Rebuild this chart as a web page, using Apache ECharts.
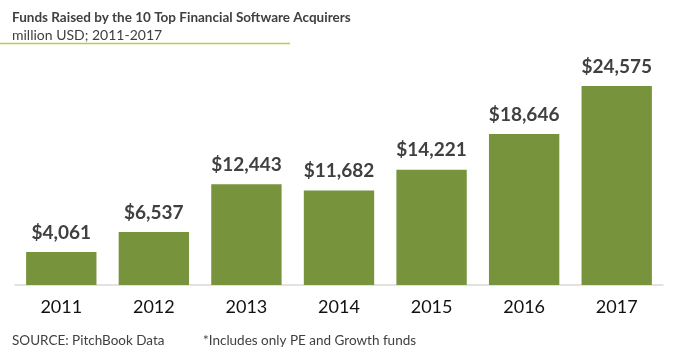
<!DOCTYPE html>
<html><head><meta charset="utf-8">
<script src="https://cdn.jsdelivr.net/npm/echarts@6/dist/echarts.min.js"></script>
<style>html,body{margin:0;padding:0;background:#fff}#c{width:680px;height:362px}</style>
</head><body><div id="c"></div>
<script>
var categories = ['2011','2012','2013','2014','2015','2016','2017'];
var funds = [4061, 6537, 12443, 11682, 14221, 18646, 24575];
var titleText = 'Funds Raised by the 10 Top Financial Software Acquirers';
var subtitleText = 'million USD; 2011-2017';
var sourceText = 'SOURCE: PitchBook Data';
var noteText = '*Includes only PE and Growth funds';

var chart = echarts.init(document.getElementById('c'));
var font = 'Lato';
chart.setOption({
  animation: false,
  title: {
    text: titleText, subtext: subtitleText, left: 7, top: 6, itemGap: 3,
    textStyle: {fontFamily: font, fontWeight: 'bold', fontSize: 13.5, color: '#404040'},
    subtextStyle: {fontFamily: font, fontSize: 14, color: '#404040'}
  },
  graphic: [
    {type: 'line', shape: {x1: 0, y1: 43.5, x2: 290, y2: 43.5}, style: {stroke: '#b8cf3c', lineWidth: 1.5}},
    {type: 'text', left: 12, top: 334, style: {text: sourceText, fontFamily: font, fontSize: 13.5, fill: '#404040'}},
    {type: 'text', left: 203, top: 334, style: {text: noteText, fontFamily: font, fontSize: 13.5, fill: '#404040'}}
  ],
  grid: {left: 15, right: 17, top: 42, bottom: 77},
  xAxis: {
    type: 'category', data: categories,
    axisLine: {lineStyle: {color: '#d9d9d9', width: 1.5}},
    axisTick: {show: false},
    axisLabel: {fontFamily: font, fontSize: 18, color: '#111', margin: 13}
  },
  yAxis: {type: 'value', min: 0, max: 30000, show: false, splitLine: {show: false}},
  series: [{
    type: 'bar', data: funds, barCategoryGap: '24%',
    itemStyle: {color: '#77933c'},
    label: {show: true, position: 'top', distance: 10, fontFamily: font, fontWeight: 'bold', fontSize: 19, color: '#404040',
      formatter: function(p){ return '$' + p.value.toLocaleString('en-US'); }}
  }]
});
</script></body></html>
